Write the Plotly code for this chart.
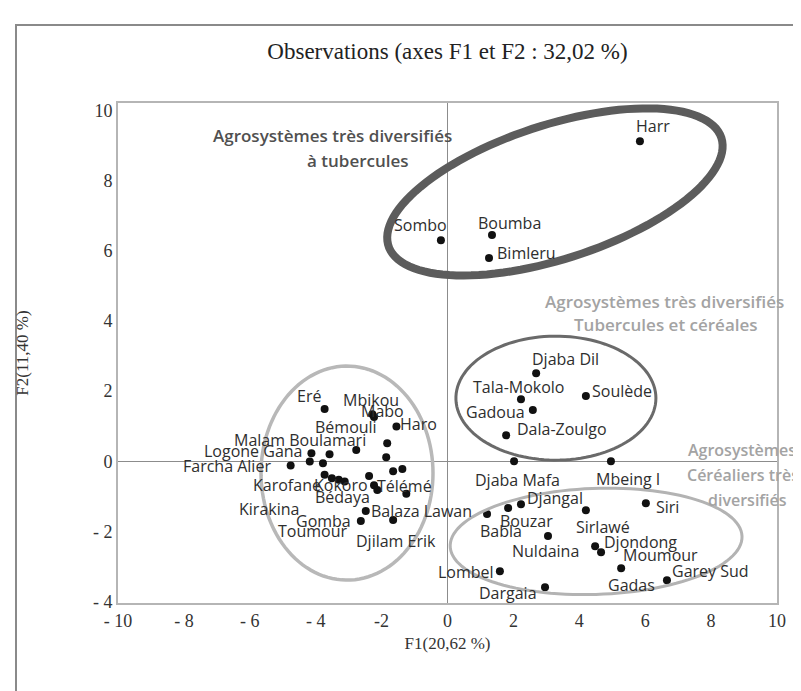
import numpy as np
import plotly.graph_objects as go

# ---------------- data ----------------
names = [
    "Harr", "Sombo", "Boumba", "Bimleru",
    "Djaba Dil", "Tala-Mokolo", "Gadoua", "Soulède", "Dala-Zoulgo", "Djaba Mafa", "Mbeing I",
    "Siri", "Djangal", "Bouzar", "Babla", "Sirlawé", "Nuldaina", "Djondong", "Moumour",
    "Gadas", "Garey Sud", "Lombel", "Dargaia",
    "Eré", "Mbikou", "Mabo", "Haro", "Bémouli", "Malam Boulamari", "", "", "Logone Gana",
    "Kirakina", "", "Farcha Alier", "Toumour", "Karofane", "", "Bédaya", "", "Kokoro", "",
    "", "", "Télémé", "Balaza Lawan", "Gomba", "Djilam Erik",
]
f1 = [
    5.84, -0.20, 1.35, 1.26,
    2.69, 2.23, 2.59, 4.20, 1.78, 2.02, 4.96,
    6.02, 2.23, 1.84, 1.20, 4.20, 3.05, 4.48, 4.66,
    5.27, 6.66, 1.59, 2.96,
    -3.73, -2.28, -2.23, -1.55, -1.83, -2.77, -1.86, -3.58, -4.13,
    -4.18, -3.78, -4.76, -3.73, -3.51, -3.30, -3.12, -2.38, -2.23, -2.13,
    -1.65, -1.37, -1.25, -2.48, -2.63, -1.65,
]
f2 = [
    9.14, 6.31, 6.46, 5.80,
    2.51, 1.77, 1.46, 1.86, 0.74, 0.00, 0.00,
    -1.20, -1.23, -1.34, -1.51, -1.40, -2.14, -2.43, -2.60,
    -3.06, -3.40, -3.14, -3.60,
    1.49, 1.34, 1.26, 0.99, 0.51, 0.32, 0.11, 0.20, 0.23,
    -0.01, -0.06, -0.12, -0.39, -0.49, -0.53, -0.58, -0.42, -0.69, -0.82,
    -0.29, -0.22, -0.93, -1.42, -1.71, -1.68,
]

x_ticks = [-10, -8, -6, -4, -2, 0, 2, 4, 6, 8, 10]
x_tick_text = ["- 10", "- 8", "- 6", "- 4", "-2", "0", "2", "4", "6", "8", "10"]
y_ticks = [-4, -2, 0, 2, 4, 6, 8, 10]
y_tick_text = ["- 4", "- 2", "0", "2", "4", "6", "8", "10"]

title_text = "Observations (axes F1 et F2 : 32,02 %)"
x_title = "F1(20,62 %)"
y_title = "F2(11,40 %)"

# ---------------- styles ----------------
# label offsets in pixels (dx right, dy down) from each dot
label_offsets = [
    (13, -15), (-20, -15), (18, -12), (37, -5),
    (29, -14), (-2, -12), (-37, 2), (36, -5), (56, -6), (3, 19), (17, 18),
    (22, 4), (34, -6), (18, 13), (14, 17), (17, 17), (-3, 15), (45, -4), (59, 3),
    (10, 17), (44, -9), (-34, 1), (-37, 6),
    (-16, -13), (-1, -14), (8, -6), (22, -3), (-41, -16), (-56, -10), (0, 0), (0, 0), (-58, -2),
    (-41, 47), (0, 0), (-64, 1), (-12, 56), (-45, 7), (0, 0), (-2, 15), (0, 0), (-33, 0), (0, 0),
    (0, 0), (0, 0), (-2, -8), (56, 0), (-37, 0), (3, 21),
]

W, H = 801, 691
ML, MR, MT, MB = 110, 32, 95, 96
XR = [-10, 10]
YR = [-4.05, 10.23]
PW, PH = W - ML - MR, H - MT - MB
SX = PW / (XR[1] - XR[0])
SY = PH / (YR[1] - YR[0])

LABEL_FONT = dict(family="Open Sans, sans-serif", size=16, color="#2e2e2e")
GROUP_FONT = "Open Sans, sans-serif"
SERIF = "Liberation Serif, Times New Roman, serif"


def ellipse_path(cx, cy, a_px, b_px, ang_deg, n=120):
    t = np.linspace(0, 2 * np.pi, n)
    th = np.radians(ang_deg)
    px = a_px * np.cos(t) * np.cos(th) - b_px * np.sin(t) * np.sin(th)
    py = a_px * np.cos(t) * np.sin(th) + b_px * np.sin(t) * np.cos(th)
    xs = cx + px / SX
    ys = cy + py / SY
    return "M " + " L ".join(f"{x:.4f},{y:.4f}" for x, y in zip(xs, ys)) + " Z"


ellipses = [
    # cx, cy (data), a, b (px), angle, color, width
    (3.26, 7.69, 175, 67, 18, "#5c5c5c", 8),
    (3.29, 1.80, 100, 62, 0, "#6a6a6a", 3),
    (-3.05, -0.34, 86, 107, 0, "#b8b8b8", 3.5),
    (4.51, -2.29, 146, 53, 2, "#b3b3b3", 3),
]

fig = go.Figure()
fig.add_trace(go.Scatter(
    x=f1, y=f2, mode="markers", text=names, hoverinfo="text",
    marker=dict(size=8, color="#111111"), showlegend=False,
))

shapes = []
for cx, cy, a, b, ang, col, w in ellipses:
    shapes.append(dict(type="path", path=ellipse_path(cx, cy, a, b, ang),
                       xref="x", yref="y", line=dict(color=col, width=w),
                       layer="above"))
# outer frame
shapes.append(dict(type="rect", xref="paper", yref="paper",
                   x0=(8 - ML) / PW, x1=(830 - ML) / PW,
                   y0=(MT + PH - 720) / PH, y1=(MT + PH - 17) / PH,
                   line=dict(color="#8a8a8a", width=2), layer="below"))

annotations = []
for n, x, y, (dx, dy) in zip(names, f1, f2, label_offsets):
    if not n:
        continue
    annotations.append(dict(x=x, y=y, xref="x", yref="y", text=n, showarrow=False,
                            xshift=dx, yshift=-dy, xanchor="center", yanchor="middle",
                            font=LABEL_FONT))

group_labels = [
    ("Agrosystèmes très diversifiés", -3.48, 9.31, "center", "#505050", 17),
    ("à tubercules", -2.72, 8.60, "center", "#505050", 17),
    ("Agrosystèmes très diversifiés", 6.60, 4.57, "center", "#a3a3a3", 17),
    ("Tubercules et céréales", 6.63, 3.89, "center", "#a3a3a3", 17),
    ("Agrosystèmes", 7.24, 0.31, "left", "#a3a3a3", 16),
    ("Céréaliers très", 7.21, -0.40, "left", "#a3a3a3", 16),
    ("diversifiés", 9.09, -1.11, "center", "#a3a3a3", 16),
]
for t, x, y, xa, col, sz in group_labels:
    annotations.append(dict(x=x, y=y, xref="x", yref="y", text=t, showarrow=False,
                            xanchor=xa, yanchor="middle",
                            font=dict(family=GROUP_FONT, size=sz, color=col, weight=600)))

fig.update_layout(
    width=W, height=H, autosize=False,
    margin=dict(l=ML, r=MR, t=MT, b=MB),
    paper_bgcolor="white", plot_bgcolor="white",
    title=dict(text=title_text, x=(ML + PW / 2) / W, xanchor="center",
               y=1 - 43 / H, yanchor="middle",
               font=dict(family=SERIF, size=23, color="#222222", weight="normal")),
    shapes=shapes, annotations=annotations,
    xaxis=dict(range=XR, tickvals=x_ticks, ticktext=x_tick_text, showgrid=False,
               zeroline=True, zerolinecolor="#8c8c8c", zerolinewidth=1,
               showline=True, mirror=True, linecolor="#b5b5b5", linewidth=2,
               ticks="", tickfont=dict(family=SERIF, size=18, color="#333333"),
               title=dict(text=x_title, standoff=8,
                          font=dict(family=SERIF, size=17, color="#333333"))),
    yaxis=dict(range=YR, tickvals=y_ticks, ticktext=y_tick_text, showgrid=False,
               zeroline=True, zerolinecolor="#8c8c8c", zerolinewidth=1,
               showline=True, mirror=True, linecolor="#b5b5b5", linewidth=2,
               ticks="", tickfont=dict(family=SERIF, size=18, color="#333333"),
               title=dict(text=y_title, standoff=60,
                          font=dict(family=SERIF, size=17, color="#333333"))),
)

fig.write_html("out.html")
